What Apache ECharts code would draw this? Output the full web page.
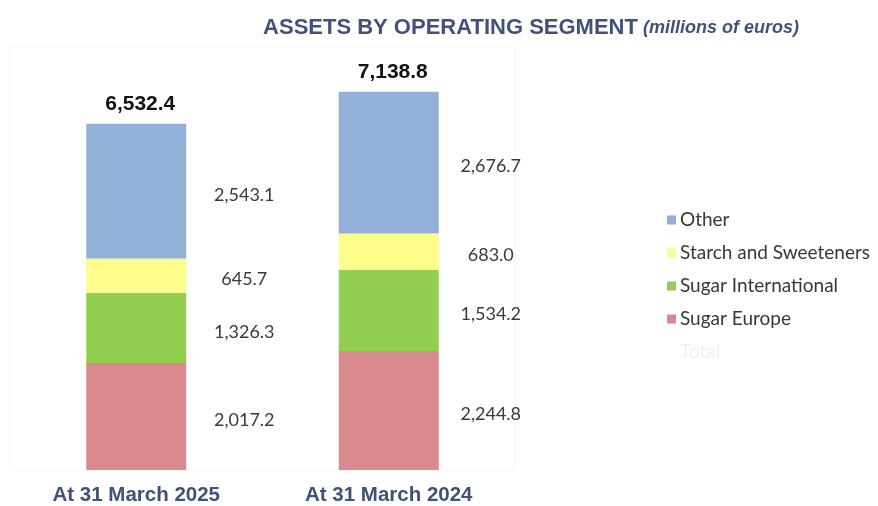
<!DOCTYPE html>
<html>
<head>
<meta charset="utf-8">
<script src="https://cdn.jsdelivr.net/npm/echarts@6/dist/echarts.min.js"></script>
<style>
  html, body { margin: 0; padding: 0; background: #fff; }
  #main { width: 878px; height: 506px; }
</style>
</head>
<body>
<div id="main"></div>
<script>
var categories = ['At 31 March 2025', 'At 31 March 2024'];
var sugarEurope = [2017.2, 2244.8];
var sugarInternational = [1326.3, 1534.2];
var starchSweeteners = [645.7, 683.0];
var other = [2543.1, 2676.7];
var totals = [6532.4, 7138.8];

(function(){
    var myChart = echarts.init(document.getElementById('main'));
    var fmt = function (v) {
        return Number(v).toLocaleString('en-US', {minimumFractionDigits: 1, maximumFractionDigits: 1});
    };
    // value labels sit to the right of each bar, a bit further out on the first one
    var labelX = ['158%', '152%'];

    function seg(name, data, color) {
        return {
            name: name,
            type: 'bar',
            stack: 'a',
            barWidth: 100,
            data: data.map(function (v, i) {
                return { value: v, label: { position: [labelX[i], '50%'] } };
            }),
            itemStyle: { color: color },
            label: {
                show: true,
                align: 'center',
                verticalAlign: 'middle',
                offset: [0, 4],
                fontFamily: 'Lato',
                fontSize: 18,
                color: '#3a3a3a',
                formatter: function (p) { return fmt(p.value); }
            }
        };
    }

    option = {
        animation: false,
        title: {
            text: '{b|ASSETS BY OPERATING SEGMENT} {i|(millions of euros)}',
            left: 526,
            textAlign: 'center',
            top: 12,
            textStyle: {
                rich: {
                    b: { fontFamily: 'Liberation Sans', fontWeight: 'bold', fontSize: 22, color: '#40527c' },
                    i: { fontFamily: 'Liberation Sans', fontWeight: 'bold', fontStyle: 'italic', fontSize: 18, color: '#40527c' }
                }
            }
        },
        legend: {
            orient: 'vertical',
            left: 662,
            top: 205,
            itemWidth: 9,
            itemHeight: 9,
            itemGap: 13,
            icon: 'rect',
            data: ['Other', 'Starch and Sweeteners', 'Sugar International', 'Sugar Europe',
                   { name: 'Total', textStyle: { color: '#f0f0f0' } }],
            textStyle: { fontFamily: 'Lato', fontSize: 19, lineHeight: 20, color: '#383838', padding: [0, 0, 0, -1] }
        },
        grid: {
            left: 10,
            right: 363,
            top: 46,
            bottom: 36,
            show: true,
            borderColor: '#f3f3f3',
            borderWidth: 1
        },
        xAxis: {
            type: 'category',
            data: categories,
            axisLine: { show: false },
            axisTick: { show: false },
            axisLabel: {
                margin: 15,
                fontFamily: 'Liberation Sans',
                fontWeight: 'bold',
                fontSize: 20.5,
                color: '#40527c'
            }
        },
        yAxis: {
            type: 'value',
            min: 0,
            max: 8000,
            show: false,
            splitLine: { show: false }
        },
        series: [
            seg('Sugar Europe', sugarEurope, '#d9898b'),
            seg('Sugar International', sugarInternational, '#92cf50'),
            seg('Starch and Sweeteners', starchSweeteners, '#fdfd8c'),
            seg('Other', other, '#93b1d8'),
            {
                name: 'Total',
                type: 'bar',
                barWidth: 100,
                barGap: '-100%',
                z: 1,
                data: totals,
                itemStyle: { color: 'rgba(0,0,0,0)' },
                label: {
                    show: true,
                    position: 'top',
                    distance: 9,
                    offset: [4, 0],
                    fontFamily: 'Liberation Sans',
                    fontWeight: 'bold',
                    fontSize: 21,
                    color: '#111',
                    formatter: function (p) { return fmt(p.value); }
                }
            }
        ]
    };

    myChart.setOption(option);
})();
</script>
</body>
</html>
